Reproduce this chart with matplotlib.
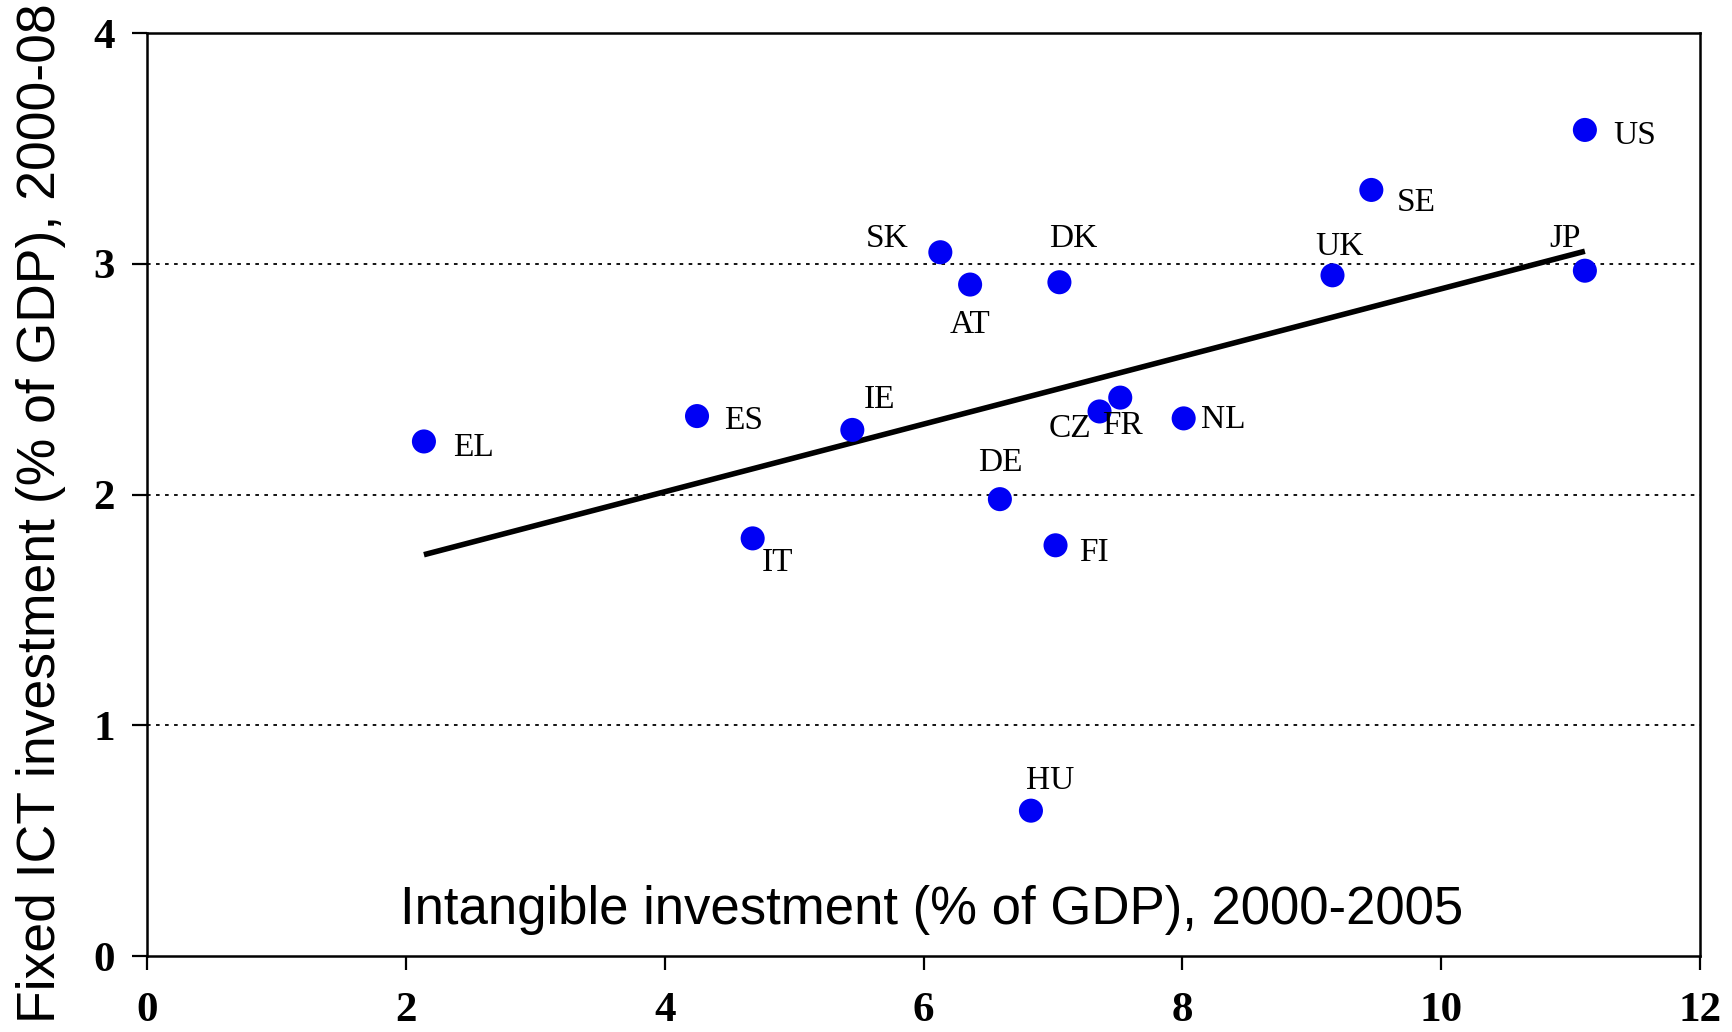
import numpy as np
import matplotlib
matplotlib.use("Agg")
import matplotlib.pyplot as plt

countries = ["EL", "ES", "IT", "IE", "SK", "AT", "DK", "DE", "FI", "HU",
             "CZ", "FR", "NL", "UK", "SE", "US", "JP"]
intangible = [2.14, 4.25, 4.68, 5.45, 6.13, 6.36, 7.05, 6.59, 7.02, 6.83,
              7.36, 7.52, 8.01, 9.16, 9.46, 11.11, 11.11]
ict = [2.23, 2.34, 1.81, 2.28, 3.05, 2.91, 2.92, 1.98, 1.78, 0.63,
       2.36, 2.42, 2.33, 2.95, 3.32, 3.58, 2.97]

x_ticks = [0, 2, 4, 6, 8, 10, 12]
y_ticks = [0, 1, 2, 3, 4]

# label offsets (pixels, right / up)
label_off = {
    "EL": (50, -6), "ES": (47, -5), "IT": (25, -24), "IE": (27, 30),
    "SK": (-53, 13), "AT": (0, -40), "DK": (14, 43), "DE": (0, 36),
    "FI": (38, -7), "HU": (19, 30), "CZ": (-30, -17), "FR": (2, -28),
    "NL": (40, -1), "UK": (7, 29), "SE": (45, -13), "US": (50, -6),
    "JP": (-20, 32),
}

serif = "Liberation Serif"
sans = "Liberation Sans"

fig = plt.figure(figsize=(17.33, 10.32), dpi=100)
ax = fig.add_axes([0.0848, 0.0736, 0.8962, 0.8944])

ax.set_xlim(0, 12)
ax.set_ylim(0, 4)

for y in y_ticks[1:]:
    ax.axhline(y, color="black", linestyle=(0, (2, 3)), linewidth=1.3, zorder=1)

x = np.array(intangible)
y = np.array(ict)
slope, icpt = np.polyfit(x, y, 1)
xs = np.array([x.min(), x.max()])
ax.plot(xs, slope * xs + icpt, color="black", linewidth=4.0, zorder=2,
        solid_capstyle="butt")

ax.scatter(x, y, s=300, color="#0000f5", edgecolors="none", zorder=3)

for c, xi, yi in zip(countries, x, y):
    dx, dy = label_off[c]
    ax.annotate(c, (xi, yi), xytext=(dx, dy), textcoords="offset pixels",
                ha="center", va="center", fontsize=24, family=serif, zorder=4)

ax.set_xticks(x_ticks)
ax.set_yticks(y_ticks)
ax.set_xticklabels([str(t) for t in x_ticks], fontsize=31, family=serif,
                   fontweight="bold")
ax.set_yticklabels([str(t) for t in y_ticks], fontsize=31, family=serif,
                   fontweight="bold")
ax.tick_params(axis="x", direction="out", length=10, width=1.6, pad=16)
ax.tick_params(axis="y", direction="out", length=11, width=1.6, pad=12)
for sp in ax.spines.values():
    sp.set_linewidth(1.8)

ax.text(6.06, 0.2, "Intangible investment (% of GDP), 2000-2005",
        ha="center", va="center", fontsize=38, family=sans)

fig.text(0.0236, 0.503, "Fixed ICT investment (% of GDP), 2000-08",
         rotation=90, ha="center", va="center", fontsize=38.5, family=sans)

fig.savefig("out.png", dpi=100)
